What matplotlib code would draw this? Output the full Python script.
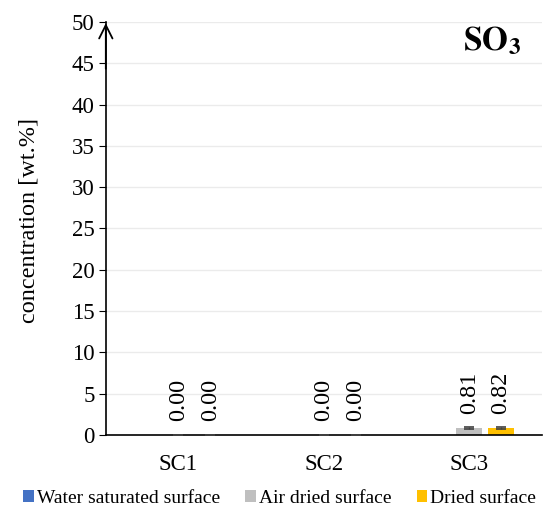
import numpy as np
from matplotlib import pyplot as plt

categories = ['SC1', 'SC2', 'SC3']
series_names = ['Water saturated surface', 'Air dried surface', 'Dried surface']
water_sat = [np.nan, np.nan, np.nan]
air_dried = [0.00, 0.00, 0.81]
dried = [0.00, 0.00, 0.82]
air_err = [0.0, 0.0, 0.10]
dried_err = [0.0, 0.0, 0.10]
colors = ['#4472C4', '#BFBFBF', '#FFC000']


def main():
    plt.rcParams['font.family'] = ['Liberation Serif', 'DejaVu Serif']
    plt.rcParams['mathtext.fontset'] = 'stix'

    fig = plt.figure(figsize=(5.54, 5.09), dpi=100)
    ax = fig.add_axes([0.191, 0.1454, 0.787, 0.8114])

    x = np.arange(len(categories))
    width = 0.18
    step = 0.22

    values = [water_sat, air_dried, dried]
    errs = [None, air_err, dried_err]
    for i, (vals, err) in enumerate(zip(values, errs)):
        pos = x + (i - 1) * step
        ax.bar(pos, vals, width, color=colors[i], label=series_names[i], zorder=2)
        if err is not None:
            ax.errorbar(pos, vals, yerr=err, fmt='none', ecolor='#404040',
                        elinewidth=1, capsize=3.5, capthick=1.2, zorder=3,
                        clip_on=False)
            for p, v in zip(pos, vals):
                ax.annotate(f'{v:.2f}', xy=(p, v), xytext=(0, 10),
                            textcoords='offset points', rotation=90,
                            ha='center', va='bottom', fontsize=17.5)

    ax.set_xlim(-0.5, 2.5)
    ax.set_ylim(0, 50)
    ax.set_yticks(np.arange(0, 51, 5))
    ax.set_xticks(x)
    ax.set_xticklabels(categories, fontsize=16.5)
    ax.tick_params(axis='y', labelsize=16.5, direction='out', length=5, pad=3)
    ax.tick_params(axis='x', length=0, pad=14)
    ax.set_ylabel('concentration [wt.%]', fontsize=17.5)
    ax.yaxis.set_label_coords(-0.152, 0.52)
    ax.yaxis.grid(True, color='#EBEBEB', linewidth=1, zorder=0)
    ax.set_axisbelow(True)

    for s in ['top', 'right']:
        ax.spines[s].set_visible(False)
    ax.spines['left'].set_linewidth(1.2)
    ax.spines['bottom'].set_linewidth(1.2)
    ax.annotate('', xy=(-0.5, 50.2), xytext=(-0.5, 44), xycoords='data',
                arrowprops=dict(arrowstyle='->', color='black', lw=1.3,
                                mutation_scale=24),
                annotation_clip=False)

    ax.text(0.952, 0.995, r'$\mathbf{SO_3}$', transform=ax.transAxes,
            ha='right', va='top', fontsize=24)

    fig.legend(loc='lower center', bbox_to_anchor=(0.505, -0.03), ncol=3,
               frameon=False, fontsize=14, handlelength=0.55, handleheight=0.55,
               handletextpad=0.15, columnspacing=1.3)

    fig.savefig('out.png', dpi=100)


if __name__ == "__main__":
    main()
